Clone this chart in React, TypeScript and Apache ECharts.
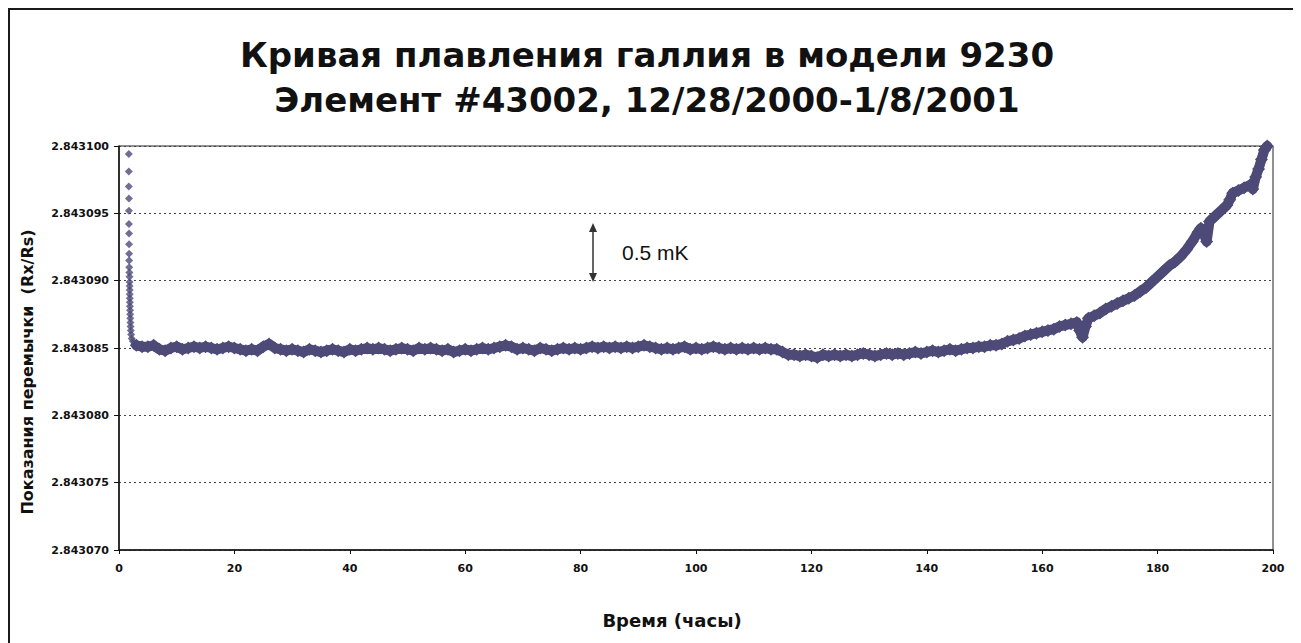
import React, { useEffect, useRef } from "react";
import * as echarts from "echarts";

// Chart texts
const titleLines = ["Кривая плавления галлия в модели 9230", "Элемент #43002, 12/28/2000-1/8/2001"];
const xAxisTitle = "Время (часы)";
const yAxisTitle = "Показания перемычки  (Rx/Rs)";
const annotationText = "0.5 mK";

// Axis ranges (Rx/Rs ratio)
const xMin = 0;
const xMax = 200;
const xStep = 20;
const yMin = 2.84307;
const yMax = 2.8431;
const yStep = 0.000005;

// Initial cool-down points (hours, ratio)
const warmupHours = [
  1.7, 1.7, 1.7, 1.72, 1.72, 1.72, 1.74, 1.74, 1.75, 1.76, 1.78, 1.8, 1.82,
  1.83, 1.84, 1.85, 1.86, 1.87, 1.88, 1.9, 1.92, 1.94, 1.96, 1.98, 2.0, 2.05,
  2.1, 2.2, 2.4, 2.7,
];
const warmupValues = [
  2.8430994, 2.8430981, 2.843097, 2.8430961, 2.8430952, 2.8430942, 2.8430935,
  2.8430927, 2.843092, 2.8430915, 2.843091, 2.8430906, 2.8430903, 2.8430899,
  2.8430896, 2.8430893, 2.843089, 2.8430887, 2.8430884, 2.8430881, 2.8430878,
  2.8430875, 2.8430872, 2.8430869, 2.8430866, 2.8430863, 2.843086, 2.8430857,
  2.8430855, 2.8430853,
];

// Melt curve (hours, ratio)
const meltHours = [
  3, 4, 5, 6, 7, 8, 9, 10, 11, 12, 13, 14, 15, 16, 17, 18, 19, 20, 21, 22, 23,
  24, 25, 26, 27, 28, 29, 30, 31, 32, 33, 34, 35, 36, 37, 38, 39, 40, 41, 42,
  43, 44, 45, 46, 47, 48, 49, 50, 51, 52, 53, 54, 55, 56, 57, 58, 59, 60, 61,
  62, 63, 64, 65, 66, 67, 68, 69, 70, 71, 72, 73, 74, 75, 76, 77, 78, 79, 80,
  81, 82, 83, 84, 85, 86, 87, 88, 89, 90, 91, 92, 93, 94, 95, 96, 97, 98, 99,
  100, 101, 102, 103, 104, 105, 106, 107, 108, 109, 110, 111, 112, 113, 114,
  115, 116, 117, 118, 119, 120, 121, 122, 123, 124, 125, 126, 127, 128, 129,
  130, 131, 132, 133, 134, 135, 136, 137, 138, 139, 140, 141, 142, 143, 144,
  145, 146, 147, 148, 149, 150, 151, 152, 153, 154, 155, 156, 157, 158, 159,
  160, 161, 162, 163, 164, 165, 166, 166.5, 167, 167.5, 168, 169, 170, 171,
  172, 173, 174, 175, 176, 177, 178, 179, 180, 181, 182, 183, 184, 185, 186,
  187, 187.5, 188, 188.5, 189, 190, 191, 192, 192.5, 193, 194, 195, 196, 196.5,
  197, 197.5, 198, 198.5, 199,
];
const meltValues = [
  2.8430852, 2.8430851, 2.8430851, 2.8430852, 2.8430849, 2.8430848, 2.843085,
  2.8430851, 2.8430849, 2.843085, 2.8430851, 2.843085, 2.8430851, 2.843085,
  2.8430849, 2.843085, 2.8430851, 2.843085, 2.8430849, 2.8430848, 2.8430849,
  2.8430848, 2.8430851, 2.8430853, 2.843085, 2.8430849, 2.8430848, 2.8430849,
  2.8430848, 2.8430847, 2.8430849, 2.8430848, 2.8430847, 2.8430848, 2.8430849,
  2.8430848, 2.8430847, 2.8430849, 2.8430848, 2.8430849, 2.843085, 2.8430849,
  2.843085, 2.8430849, 2.8430848, 2.8430849, 2.843085, 2.8430849, 2.8430848,
  2.843085, 2.8430849, 2.843085, 2.8430849, 2.8430848, 2.8430849, 2.8430847,
  2.8430848, 2.8430849, 2.8430848, 2.8430849, 2.843085, 2.8430849, 2.843085,
  2.8430851, 2.8430852, 2.8430851, 2.8430849, 2.843085, 2.8430849, 2.8430848,
  2.843085, 2.8430849, 2.8430848, 2.8430849, 2.843085, 2.8430849, 2.843085,
  2.8430849, 2.843085, 2.8430851, 2.843085, 2.8430851, 2.843085, 2.8430851,
  2.843085, 2.8430851, 2.843085, 2.8430851, 2.8430852, 2.8430851, 2.843085,
  2.8430849, 2.843085, 2.8430849, 2.843085, 2.8430851, 2.8430849, 2.843085,
  2.8430849, 2.843085, 2.8430851, 2.843085, 2.8430849, 2.843085, 2.8430849,
  2.843085, 2.8430849, 2.843085, 2.8430849, 2.843085, 2.8430849, 2.8430849,
  2.8430847, 2.8430845, 2.8430845, 2.8430844, 2.8430845, 2.8430844, 2.8430843,
  2.8430845, 2.8430844, 2.8430845, 2.8430844, 2.8430845, 2.8430844, 2.8430845,
  2.8430846, 2.8430845, 2.8430844, 2.8430845, 2.8430846, 2.8430845, 2.8430846,
  2.8430845, 2.8430846, 2.8430847, 2.8430846, 2.8430847, 2.8430848, 2.8430847,
  2.8430848, 2.8430849, 2.8430848, 2.8430849, 2.843085, 2.843085, 2.8430851,
  2.8430851, 2.8430852, 2.8430852, 2.8430853, 2.8430855, 2.8430856, 2.8430857,
  2.8430859, 2.843086, 2.8430861, 2.8430862, 2.8430863, 2.8430864, 2.8430866,
  2.8430867, 2.8430868, 2.8430869, 2.8430863, 2.8430858, 2.8430866, 2.8430872,
  2.8430874, 2.8430876, 2.8430879, 2.8430881, 2.8430883, 2.8430885, 2.8430887,
  2.8430889, 2.8430892, 2.8430895, 2.8430899, 2.8430903, 2.8430907, 2.8430911,
  2.8430914, 2.8430918, 2.8430923, 2.8430929, 2.8430936, 2.8430939, 2.8430935,
  2.8430929, 2.8430944, 2.8430948, 2.8430952, 2.8430956, 2.843096, 2.8430965,
  2.8430967, 2.8430969, 2.8430971, 2.8430968, 2.8430977, 2.8430983, 2.843099,
  2.8430997, 2.8431,
];

const SCALE = 1e6; // plot in micro-units above yMin for exact tick arithmetic
const toPlot = (v: number) => Math.round((v - yMin) * SCALE * 1000) / 1000;

export default function App() {
  const ref = useRef<HTMLDivElement>(null);

  useEffect(() => {
    document.body.style.overflow = "hidden";
    if (!ref.current) return;
    const chart = echarts.init(ref.current, undefined, { renderer: "svg" });
    const markColor = "#4D4A78";
    const sansFont = '"Liberation Sans", Arial, sans-serif';
    const wideFont = '"DejaVu Sans", Verdana, sans-serif';

    const option: any = {
      animation: false,
      backgroundColor: "#ffffff",
      grid: {
        left: 109,
        top: 136,
        width: 1154,
        height: 404,
        show: true,
        borderColor: "#222",
        borderWidth: 1,
        backgroundColor: "transparent",
      },
      xAxis: {
        type: "value",
        min: xMin,
        max: xMax,
        interval: xStep,
        axisLine: { show: true, onZero: false, lineStyle: { color: "#111", width: 1.5 } },
        axisTick: { show: true, length: 4, lineStyle: { color: "#111" } },
        axisLabel: {
          fontFamily: wideFont,
          fontWeight: "bold",
          fontSize: 11,
          color: "#111",
          margin: 13,
        },
        splitLine: { show: false },
      },
      yAxis: {
        type: "value",
        min: 0,
        max: (yMax - yMin) * SCALE,
        interval: yStep * SCALE,
        axisLine: { show: true, onZero: false, lineStyle: { color: "#111", width: 1.5 } },
        axisTick: { show: true, length: 5, lineStyle: { color: "#111" } },
        axisLabel: {
          fontFamily: wideFont,
          fontWeight: "bold",
          fontSize: 11,
          color: "#111",
          margin: 10,
          formatter: (v: number) => (yMin + v / SCALE).toFixed(6),
        },
        splitLine: {
          show: true,
          lineStyle: { color: "#444", width: 1, type: [2, 3] },
        },
      },
      series: [
        {
          type: "scatter",
          symbol: "diamond",
          symbolSize: 8,
          itemStyle: { color: markColor },
          data: warmupHours.map((h, i) => [h, toPlot(warmupValues[i])]),
        },
        {
          type: "line",
          symbol: "diamond",
          symbolSize: 13,
          showSymbol: true,
          showAllSymbol: true,
          itemStyle: { color: markColor },
          lineStyle: { color: markColor, width: 10, join: "round", cap: "round" },
          data: meltHours.map((h, i) => [h, toPlot(meltValues[i])]),
        },
      ],
      graphic: [
        {
          type: "text",
          x: 637,
          y: 22,
          style: {
            text: titleLines.join("\n"),
            font: `bold 34px ${wideFont}`,
            lineHeight: 45,
            fill: "#111",
            align: "center",
            verticalAlign: "top",
          },
        },
        {
          type: "text",
          x: 662,
          y: 610,
          style: {
            text: xAxisTitle,
            font: `bold 18px ${wideFont}`,
            fill: "#111",
            align: "center",
            verticalAlign: "middle",
          },
        },
        {
          type: "text",
          x: 17,
          y: 362,
          rotation: Math.PI / 2,
          style: {
            text: yAxisTitle,
            font: `bold 16px ${wideFont}`,
            fill: "#111",
            align: "center",
            verticalAlign: "middle",
          },
        },
        {
          type: "text",
          x: 612,
          y: 242,
          style: {
            text: annotationText,
            font: `21px ${sansFont}`,
            fill: "#111",
            align: "left",
            verticalAlign: "middle",
          },
        },
        {
          type: "line",
          shape: { x1: 583, y1: 220, x2: 583, y2: 265 },
          style: { stroke: "#333", lineWidth: 1.5 },
        },
        {
          type: "polygon",
          shape: { points: [[583, 213], [579, 222], [587, 222]] },
          style: { fill: "#333" },
        },
        {
          type: "polygon",
          shape: { points: [[583, 272], [579, 263], [587, 263]] },
          style: { fill: "#333" },
        },
      ],
    };

    chart.setOption(option);
    return () => chart.dispose();
  }, []);

  return (
    <div
      style={{
        width: 1286,
        height: 640,
        border: "2px solid #1a1a1a",
        background: "#fff",
      }}
    >
      <div ref={ref} style={{ width: 1286, height: 640 }} />
    </div>
  );
}
